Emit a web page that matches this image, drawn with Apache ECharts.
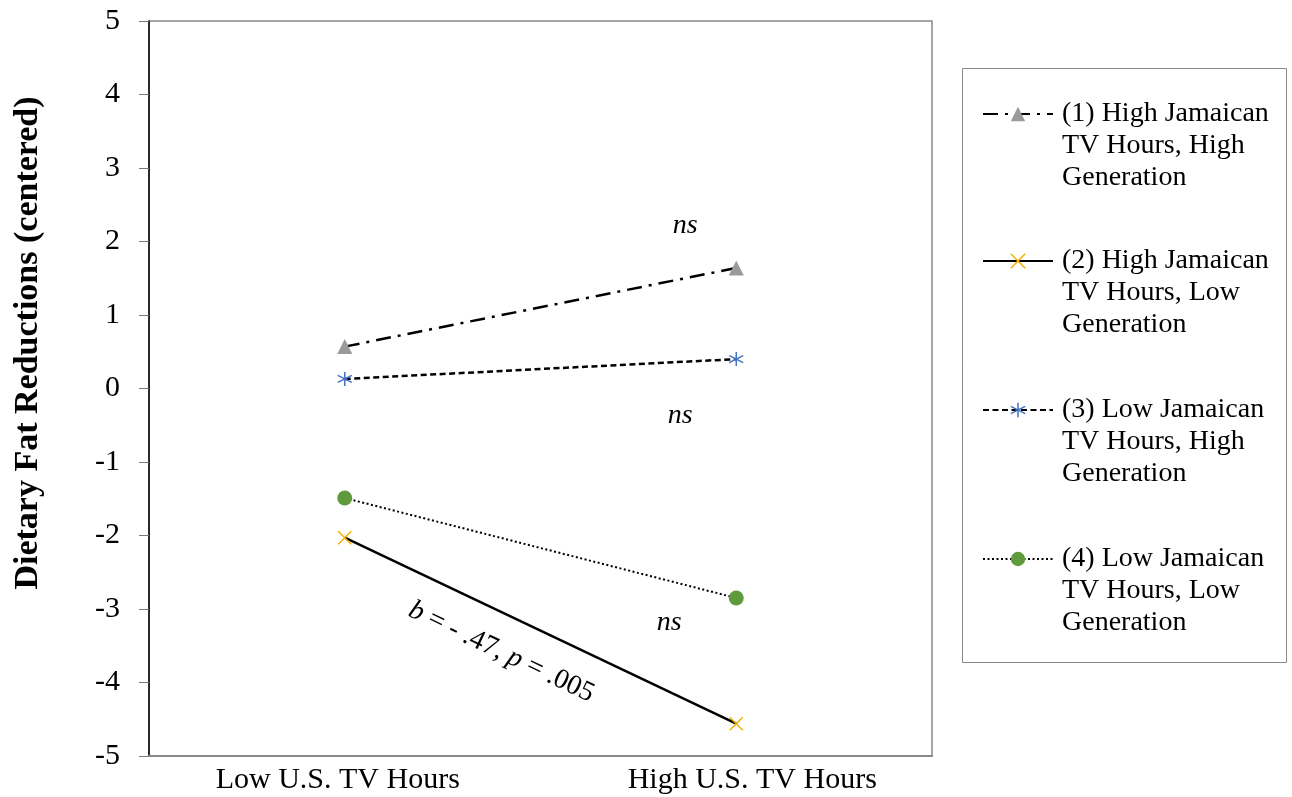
<!DOCTYPE html>
<html><head><meta charset="utf-8">
<script src="https://cdn.jsdelivr.net/npm/echarts@6/dist/echarts.min.js"></script>
<style>html,body{margin:0;padding:0;background:#fff}#c{width:1292px;height:797px}</style>
</head><body><div id="c"></div><script>
// ---- data ----
const categories = ['Low U.S. TV Hours', 'High U.S. TV Hours'];
const seriesNames = [
  '(1) High Jamaican\nTV Hours, High\nGeneration',
  '(2) High Jamaican\nTV Hours, Low\nGeneration',
  '(3) Low Jamaican\nTV Hours, High\nGeneration',
  '(4) Low Jamaican\nTV Hours, Low\nGeneration'
];
const highJamHighGen = [0.57, 1.64];
const highJamLowGen = [-2.03, -4.56];
const lowJamHighGen = [0.13, 0.40];
const lowJamLowGen = [-1.49, -2.85];
const yMin = -5, yMax = 5, yInterval = 1;
const yTitle = 'Dietary Fat Reductions (centered)';
// annotation anchors (category index, value)
const nsAnchors = [[1, 2.21], [1, -0.37], [1, -3.18]];
const slopeAnchor = [0.4, -3.585];

const FONT = '"Liberation Serif", "Times New Roman", serif';
const chart = echarts.init(document.getElementById('c'));

const X_PATH = 'path://M0,0L20,20M20,0L0,20';
const STAR_PATH = 'path://M10,0L10,20M1.5,5L18.5,15M18.5,5L1.5,15';

const seriesDefs = [
  {data: highJamHighGen, symbol: 'triangle', size: 15, color: '#9a9a9a', stroke: '#9a9a9a', sw: 0, line: [15, 7, 3, 7], lw: 2.5},
  {data: highJamLowGen, symbol: X_PATH, size: 13, color: '#f0b000', stroke: '#f0b000', sw: 1.5, line: 'solid', lw: 2.5},
  {data: lowJamHighGen, symbol: STAR_PATH, size: 14, color: '#4472c4', stroke: '#4472c4', sw: 1.5, line: [6, 3.5], lw: 2.5},
  {data: lowJamLowGen, symbol: 'circle', size: 15, color: '#5f9a3c', stroke: '#5f9a3c', sw: 0, line: [2, 2.5], lw: 2}
];

const legendCenters = [114, 261, 410, 559];

const option = {
  animation: false,
  backgroundColor: '#fff',
  grid: {left: 149, top: 21, right: 360, bottom: 41, show: true, borderColor: '#888', borderWidth: 1.5},
  xAxis: {
    type: 'category', data: categories, boundaryGap: true,
    axisLine: {show: true, onZero: false, lineStyle: {color: '#888', width: 2}},
    axisTick: {show: false},
    axisLabel: {color: '#000', fontFamily: FONT, fontSize: 30, margin: 9,
      formatter: (v, i) => (i === 0 ? '{a|' : '{b|') + v + '}',
      rich: {
        a: {fontFamily: FONT, fontSize: 30, color: '#000', padding: [0, 14, 0, 0]},
        b: {fontFamily: FONT, fontSize: 30, color: '#000', padding: [0, 0, 0, 32]}
      }},
    splitLine: {show: false}
  },
  yAxis: {
    type: 'value', min: yMin, max: yMax, interval: yInterval,
    axisLine: {show: true, onZero: false, lineStyle: {color: '#000', width: 1.5}},
    axisTick: {show: true, length: 10, lineStyle: {color: '#777', width: 1}},
    axisLabel: {color: '#000', fontFamily: FONT, fontSize: 30, margin: 29},
    splitLine: {show: false}
  },
  legend: seriesNames.map((n, i) => ({
    data: [n], orient: 'vertical', left: 982, top: legendCenters[i] - 80, padding: 0,
    itemWidth: 70, itemHeight: 18, selectedMode: false,
    formatter: name => '\n\n' + name,
    itemStyle: {borderWidth: seriesDefs[i].sw},
    textStyle: {color: '#000', fontFamily: FONT, fontSize: 28, lineHeight: 32, padding: [0, 0, 0, 4]}
  })),
  series: seriesDefs.map((d, i) => ({
    type: 'line', name: seriesNames[i], data: d.data,
    symbol: d.symbol, symbolSize: d.size, showSymbol: true,
    lineStyle: {color: '#000', width: d.lw, type: d.line},
    itemStyle: {color: d.color, borderColor: d.stroke, borderWidth: d.sw, opacity: 1},
    emphasis: {disabled: true},
    z: 3 + i
  })),
  graphic: []
};
chart.setOption(option);

function px(anchor) {
  const p0 = chart.convertToPixel({gridIndex: 0}, [0, anchor[1]]);
  const p1 = chart.convertToPixel({gridIndex: 0}, [1, anchor[1]]);
  return [p0[0] + (p1[0] - p0[0]) * anchor[0], p0[1]];
}
const nsDx = [-51, -56, -67];
const g = [];
nsAnchors.forEach((a, i) => {
  const p = px(a);
  g.push({type: 'text', x: p[0] + nsDx[i], y: p[1], style: {text: 'ns', fill: '#000',
    font: 'italic 28px ' + FONT, textAlign: 'center', textVerticalAlign: 'middle'}});
});
const sp = px(slopeAnchor);
g.push({type: 'text', x: sp[0], y: sp[1], rotation: -0.443, style: {
  text: '{i|b} = - .47, {i|p} = .005', fill: '#000', fontFamily: FONT, fontSize: 28,
  align: 'center', verticalAlign: 'middle',
  rich: {i: {fontStyle: 'italic', fontFamily: FONT, fontSize: 28}}
}});
g.push({type: 'text', x: 28, y: 343, rotation: Math.PI / 2, style: {
  text: yTitle, fill: '#000', font: 'bold 34px ' + FONT, textAlign: 'center', textVerticalAlign: 'middle'}});
g.push({type: 'rect', shape: {x: 962.5, y: 68.5, width: 324, height: 594}, z: -1,
  style: {fill: 'none', stroke: '#888', lineWidth: 1}});
chart.setOption({graphic: g});
</script></body></html>
